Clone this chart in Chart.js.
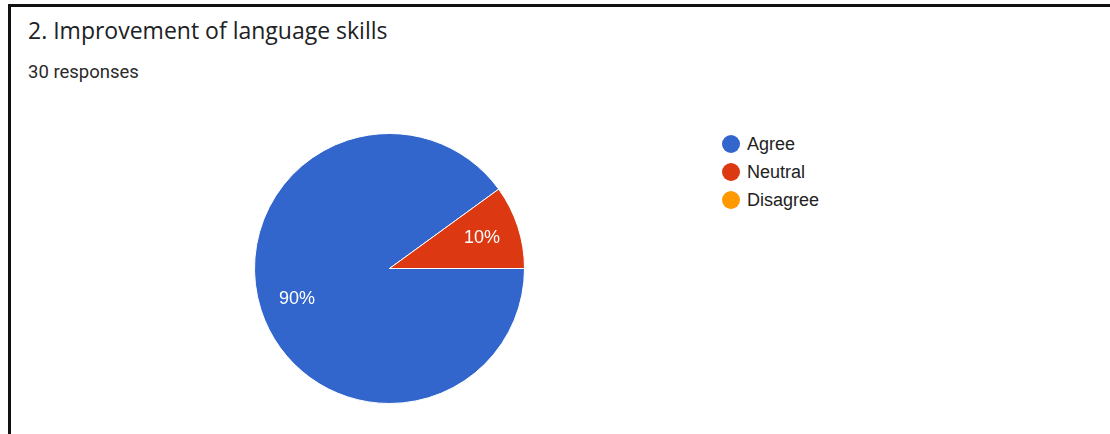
<!DOCTYPE html>
<html>
<head>
<meta charset="utf-8">
<script src="https://cdn.jsdelivr.net/npm/chart.js@4"></script>
<style>
  body { margin: 0; background: #fff; width: 1110px; height: 434px; overflow: hidden; position: relative; }
  #frame { position: absolute; left: 8px; top: 4px; right: -10px; bottom: -10px; border-top: 3px solid #111; border-left: 3px solid #111; }
  #title { position: absolute; left: 28px; top: 14px; font-family: "Open Sans", sans-serif; font-size: 23px; color: #202124; }
  #count { position: absolute; left: 28px; top: 61px; font-family: Roboto, sans-serif; font-size: 18.5px; color: #2a2a2a; }
  #pie-box { position: absolute; left: 254px; top: 133px; width: 271px; height: 271px; }
  #legend { position: absolute; left: 722px; top: 133px; font-family: "Liberation Sans", Arial, sans-serif; font-size: 18px; color: #222; }
  #legend div { height: 28px; line-height: 22px; }
  #legend span.dot { display: inline-block; width: 18px; height: 18px; border-radius: 50%; vertical-align: -3px; margin-right: 7px; }
</style>
</head>
<body>
<div id="frame"></div>
<div id="title">2. Improvement of language skills</div>
<div id="count">30 responses</div>
<div id="pie-box"><canvas id="pie"></canvas></div>
<div id="legend"></div>
<script>
var labels = ['Agree', 'Neutral', 'Disagree']
var values = [27, 3, 0]
var colors = ['#3366cc', '#dc3912', '#ff9900']

// legend list, same order as the slices
var legend = document.getElementById('legend')
labels.forEach((name, i) => {
    var row = document.createElement('div')
    row.innerHTML = '<span class="dot" style="background:' + colors[i] + '"></span>' + name
    legend.appendChild(row)
})

// percentage text inside each slice
var percentLabels = {
    id: 'percentLabels',
    afterDatasetsDraw(chart) {
        var ctx = chart.ctx
        var total = values.reduce((a, b) => a + b, 0)
        chart.getDatasetMeta(0).data.forEach((arc, i) => {
            if (!values[i]) return
            var mid = (arc.startAngle + arc.endAngle) / 2
            var r = arc.outerRadius * 0.72
            ctx.save()
            ctx.fillStyle = '#fff'
            ctx.font = '18px "Liberation Sans", Arial, sans-serif'
            ctx.textAlign = 'center'
            ctx.textBaseline = 'middle'
            ctx.fillText(Math.round(values[i] / total * 100) + '%', arc.x + Math.cos(mid) * r, arc.y + Math.sin(mid) * r)
            ctx.restore()
        })
    }
}

var ctx = document.getElementById('pie').getContext('2d')
var chart = new Chart(ctx, {
    type: 'pie',
    data: {
        labels: labels,
        datasets: [{
            data: values,
            backgroundColor: colors,
            borderColor: '#fff',
            borderWidth: 1
        }]
    },
    options: {
        responsive: true,
        maintainAspectRatio: false,
        animation: false,
        rotation: 90,
        plugins: {
            legend: { display: false },
            tooltip: { enabled: false }
        }
    },
    plugins: [percentLabels]
})
</script>
</body>
</html>
